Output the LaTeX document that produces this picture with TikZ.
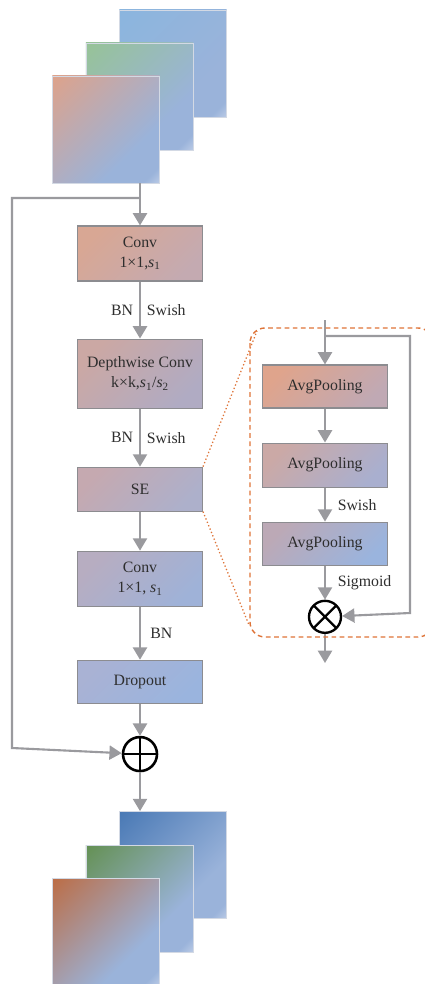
\documentclass[tikz,border=0pt]{standalone}
\usepackage{fontspec}
\setmainfont{Liberation Serif}
\usetikzlibrary{arrows.meta,calc,positioning}
\definecolor{Ink}{HTML}{2E2E2E}
\definecolor{Wire}{HTML}{9A9A9E}
\definecolor{Edge}{HTML}{8C8C90}
\definecolor{Rust}{HTML}{DE7337}
\definecolor{MapBlue}{HTML}{9AB3DA}
\definecolor{MapLight}{HTML}{C4D1E9}
\definecolor{MapEdge}{HTML}{D3D9E4}
\definecolor{InBlue}{HTML}{88B6DF}
\definecolor{InGreen}{HTML}{96C68A}
\definecolor{InOrange}{HTML}{EA9F7C}
\definecolor{OutBlue}{HTML}{3A6EAE}
\definecolor{OutGreen}{HTML}{5A8A3A}
\definecolor{OutOrange}{HTML}{C2602A}
\definecolor{ConvA}{HTML}{D8A794}
\definecolor{ConvB}{HTML}{C4AAB1}
\definecolor{DwA}{HTML}{CBA8A4}
\definecolor{DwB}{HTML}{B0ABC3}
\definecolor{SeA}{HTML}{C5A9B0}
\definecolor{SeB}{HTML}{ADB0CB}
\definecolor{ConvTwoA}{HTML}{B7ADC1}
\definecolor{ConvTwoB}{HTML}{9FB2D8}
\definecolor{DropA}{HTML}{A9B2D4}
\definecolor{DropB}{HTML}{9AB4DE}
\definecolor{PoolOneA}{HTML}{DFA48C}
\definecolor{PoolOneB}{HTML}{C0A9B4}
\definecolor{PoolTwoA}{HTML}{CBA9A6}
\definecolor{PoolTwoB}{HTML}{A9AFCF}
\definecolor{PoolThreeA}{HTML}{BCA9B6}
\definecolor{PoolThreeB}{HTML}{9AB4DE}
\newcommand{\fmapshading}[2]{%
  \pgfdeclarehorizontalshading{#1}{100bp}{color(0bp)=(#2); color(5bp)=(#2);
    color(66bp)=(MapBlue); color(80bp)=(MapBlue); color(87bp)=(MapLight); color(100bp)=(MapLight)}}
\fmapshading{inblue}{InBlue}
\fmapshading{ingreen}{InGreen}
\fmapshading{inorange}{InOrange}
\fmapshading{outblue}{OutBlue}
\fmapshading{outgreen}{OutGreen}
\fmapshading{outorange}{OutOrange}

\begin{document}
\begin{tikzpicture}[x=0.03cm,y=-0.03cm,
    blk/.style 2 args={draw=Edge,line width=0.9pt,top color=#1,bottom color=#2,shading angle=45,
      minimum width=3.75cm,inner sep=0pt,align=center,text=Ink,font=\fontsize{13.5}{17}\selectfont},
    fmap/.style={draw=MapEdge,line width=0.6pt,minimum size=3.21cm,inner sep=0pt,
      shade,shading=#1,shading angle=-45},
    flow/.style={draw=Wire,line width=1.8pt,-{Triangle[width=12pt,length=10.5pt]}},
    lbl/.style={text=Ink,font=\fontsize{13.5}{16}\selectfont,inner sep=2pt},
    adder/.style={circle,draw=black,line width=2.2pt,minimum size=1.02cm,inner sep=0pt,
      path picture={\draw[line width=2.2pt] (path picture bounding box.north) -- (path picture bounding box.south)
        (path picture bounding box.west) -- (path picture bounding box.east);}},
    multiplier/.style={circle,draw=black,line width=2pt,minimum size=0.96cm,inner sep=0pt,
      path picture={\draw[line width=2pt]
        ($(path picture bounding box.center)+(45:0.5cm)$) -- ($(path picture bounding box.center)+(225:0.5cm)$)
        ($(path picture bounding box.center)+(135:0.5cm)$) -- ($(path picture bounding box.center)+(315:0.5cm)$);}}]
  \useasboundingbox (0,0) rectangle (425,984);

  % input feature maps
  \node[fmap=inblue] (inBlue) at (173,63.5) {};
  \node[fmap=ingreen] (inGreen) at (139.5,96.5) {};
  \node[fmap=inorange] (inOrange) at (106,129.5) {};

  % MBConv column
  \node[blk={ConvA}{ConvB},minimum height=1.65cm] (conv1) at (140,253.5)
    {Conv\\1×1,\textit{s}\textsubscript{1}};
  \node[blk={DwA}{DwB},minimum height=2.07cm,below=1.71cm of conv1] (dwconv)
    {Depthwise Conv\\k×k,\textit{s}\textsubscript{1}/\textit{s}\textsubscript{2}};
  \node[blk={SeA}{SeB},minimum height=1.32cm,below=1.74cm of dwconv] (se) {SE};
  \node[blk={ConvTwoA}{ConvTwoB},minimum height=1.65cm,below=1.17cm of se] (conv2)
    {Conv\\1×1, \textit{s}\textsubscript{1}};
  \node[blk={DropA}{DropB},minimum height=1.29cm,below=1.59cm of conv2] (drop) {Dropout};
  \node[adder,below=0.96cm of drop] (plus) {};

  \coordinate (split) at (140,198);
  \coordinate (skip) at (12,748);
  \draw[flow] (conv1 |- inOrange.south) -- (conv1);
  \draw[flow] (split) -| (skip) -- (plus);
  \draw[flow] (conv1) -- node[lbl,left=3pt] {BN} node[lbl,right=3pt] {Swish} (dwconv);
  \draw[flow] (dwconv) -- node[lbl,left=3pt] {BN} node[lbl,right=3pt] {Swish} (se);
  \draw[flow] (se) -- (conv2);
  \draw[flow] (conv2) -- node[lbl,right=6pt] {BN} (drop);
  \draw[flow] (drop) -- (plus);

  % output feature maps
  \node[fmap=outblue] (outBlue) at (173,865) {};
  \node[fmap=outgreen] (outGreen) at (139.5,898.5) {};
  \node[fmap=outorange] (outOrange) at (106,931.5) {};
  \draw[flow] (plus) -- (plus |- outBlue.north);

  % SE block detail
  \node[blk={PoolOneA}{PoolOneB},minimum height=1.29cm] (pool1) at (325,386.5) {AvgPooling};
  \node[blk={PoolTwoA}{PoolTwoB},minimum height=1.32cm,below=1.02cm of pool1] (pool2) {AvgPooling};
  \node[blk={PoolThreeA}{PoolThreeB},minimum height=1.29cm,below=1.02cm of pool2] (pool3) {AvgPooling};
  \node[multiplier,below=1.02cm of pool3] (mult) {};

  \coordinate (seIn) at (325,320);
  \coordinate (seSplit) at (325,336);
  \coordinate (seBack) at (410,613);
  \coordinate (seOut) at (325,663);
  \draw[flow] (seIn) -- (pool1);
  \draw[flow] (seSplit) -| (seBack) -- (mult);
  \draw[flow] (pool1) -- (pool2);
  \draw[flow] (pool2) -- node[lbl,right=8pt] {Swish} (pool3);
  \draw[flow] (pool3) -- node[lbl,right=8pt] {Sigmoid} (mult);
  \draw[flow] (mult) -- (seOut);

  \draw[Rust,line width=1.2pt,dash pattern=on 4pt off 3pt,rounded corners=0.45cm]
    (250,328) rectangle (433,637);
  \coordinate (zoomTop) at (257,331);
  \coordinate (zoomBot) at (249,625);
  \draw[Rust,line width=1.1pt,dotted] (se.north east) -- (zoomTop);
  \draw[Rust,line width=1.1pt,dotted] (se.south east) -- (zoomBot);
\end{tikzpicture}
\end{document}
